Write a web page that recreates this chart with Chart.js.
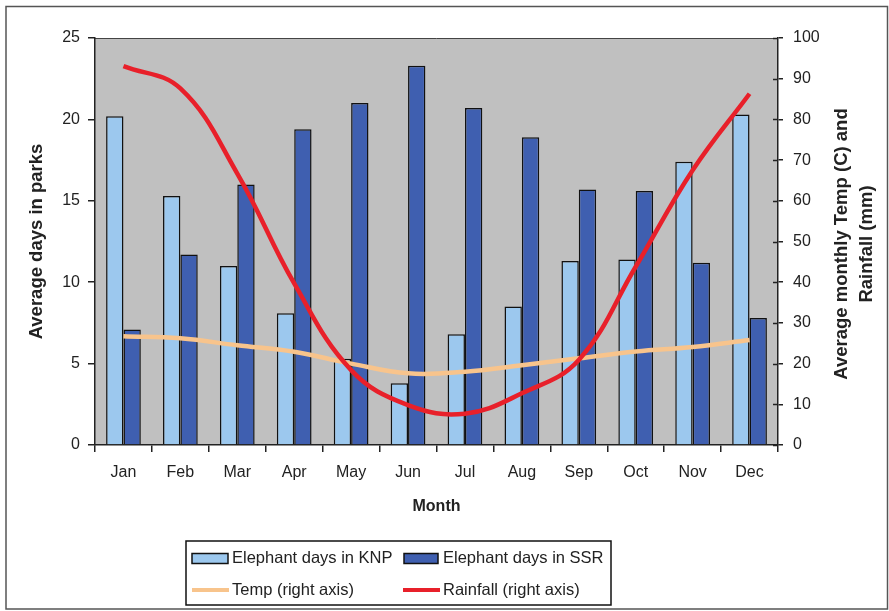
<!DOCTYPE html>
<html>
<head>
<meta charset="utf-8">
<script src="https://cdn.jsdelivr.net/npm/chart.js@4.4.1/dist/chart.umd.min.js"></script>
<style>
  html, body { margin: 0; padding: 0; background: #fff; }
  #wrap { width: 889px; height: 611px; position: relative; }
</style>
</head>
<body>
<div id="wrap"><canvas id="myChart" width="889" height="611"></canvas></div>
<script>
// data
const months = ['Jan', 'Feb', 'Mar', 'Apr', 'May', 'Jun', 'Jul', 'Aug', 'Sep', 'Oct', 'Nov', 'Dec']
const knpDays = [20.2, 15.3, 11.0, 8.1, 5.3, 3.8, 6.8, 8.5, 11.3, 11.4, 17.4, 20.3]
const ssrDays = [7.1, 11.7, 16.0, 19.4, 21.0, 23.3, 20.7, 18.9, 15.7, 15.6, 11.2, 7.8]
const tempC = [26.7, 26.2, 24.5, 22.9, 20.0, 17.6, 18.0, 19.6, 21.3, 23.0, 24.1, 25.8]
const rainMm = [93.1, 87.6, 66.7, 39.7, 18.4, 9.8, 7.7, 12.7, 20.9, 43.8, 67.5, 86.3]

const FONT = '"Liberation Sans", Arial, sans-serif'
const INK = '#222'

// gray plot area, outer frame
const backdrop = {
    id: 'backdrop',
    beforeDraw(chart) {
        const c = chart.ctx, a = chart.chartArea
        c.save()
        c.fillStyle = '#fff'
        c.fillRect(0, 0, chart.width, chart.height)
        c.fillStyle = '#c0c0c0'
        c.fillRect(a.left, a.top, a.right - a.left, a.bottom - a.top)
        c.strokeStyle = '#444'
        c.lineWidth = 1
        c.beginPath()
        c.moveTo(a.left, a.top + 0.5)
        c.lineTo(a.right, a.top + 0.5)
        c.stroke()
        c.strokeStyle = '#555'
        c.lineWidth = 1.5
        c.strokeRect(6, 6.5, 881.5, 602.5)
        c.restore()
    }
}

// right axis title reads bottom to top, inner half of right ticks, boxed legend
const extras = {
    id: 'extras',
    afterDraw(chart) {
        const c = chart.ctx
        const ds = chart.data.datasets
        const r = chart.scales.y1

        c.save()
        c.strokeStyle = INK
        c.lineWidth = 1.5
        r.ticks.forEach(t => {
            const py = Math.round(r.getPixelForValue(t.value)) + 0.5
            c.beginPath()
            c.moveTo(r.left - 5, py)
            c.lineTo(r.left, py)
            c.stroke()
        })
        c.restore()

        c.save()
        c.fillStyle = INK
        c.font = 'bold 18.5px ' + FONT
        c.textAlign = 'center'
        c.textBaseline = 'middle'
        c.translate(854, 244)
        c.rotate(-Math.PI / 2)
        c.fillText('Average monthly Temp (C) and', 0, -12.5)
        c.fillText('Rainfall (mm)', 0, 12.5)
        c.restore()

        c.save()
        c.strokeStyle = '#111'
        c.lineWidth = 1.5
        c.strokeRect(186, 541, 425, 64)
        c.font = '16.5px ' + FONT
        c.fillStyle = INK
        c.textAlign = 'left'
        c.textBaseline = 'middle'
        const row1 = 558.5, row2 = 590
        const items = [
            { d: ds[2], x: 192, y: row1, w: 36, tx: 232 },
            { d: ds[3], x: 404, y: row1, w: 34, tx: 443 },
            { d: ds[1], x: 192, y: row2, w: 37, tx: 232 },
            { d: ds[0], x: 403, y: row2, w: 37, tx: 443 }
        ]
        items.forEach(it => {
            if (it.d.type === 'bar') {
                c.fillStyle = it.d.backgroundColor
                c.fillRect(it.x, it.y - 5, it.w, 10)
                c.strokeStyle = '#111'
                c.lineWidth = 1.5
                c.strokeRect(it.x, it.y - 5, it.w, 10)
            } else {
                c.strokeStyle = it.d.borderColor
                c.lineWidth = 4
                c.beginPath()
                c.moveTo(it.x, it.y)
                c.lineTo(it.x + it.w, it.y)
                c.stroke()
            }
            c.fillStyle = INK
            c.fillText(it.d.label, it.tx, it.y)
        })
        c.restore()
    }
}

const ctx = document.getElementById('myChart').getContext('2d')
const chart = new Chart(ctx, {
    data: {
        labels: months,
        datasets: [{
            type: 'line',
            label: 'Rainfall (right axis)',
            data: rainMm,
            yAxisID: 'y1',
            borderColor: '#e8202a',
            borderWidth: 4.5,
            tension: 0.4,
            pointRadius: 0,
            order: 0
        }, {
            type: 'line',
            label: 'Temp (right axis)',
            data: tempC,
            yAxisID: 'y1',
            borderColor: '#f8c48c',
            borderWidth: 4.5,
            tension: 0.4,
            pointRadius: 0,
            order: 1
        }, {
            type: 'bar',
            label: 'Elephant days in KNP',
            data: knpDays,
            yAxisID: 'y',
            backgroundColor: '#9cc8ee',
            borderColor: '#111',
            borderWidth: 1.5,
            categoryPercentage: 0.61,
            barPercentage: 1.0,
            order: 2
        }, {
            type: 'bar',
            label: 'Elephant days in SSR',
            data: ssrDays,
            yAxisID: 'y',
            backgroundColor: '#3f5fb0',
            borderColor: '#111',
            borderWidth: 1.5,
            categoryPercentage: 0.61,
            barPercentage: 1.0,
            order: 3
        }]
    },
    options: {
        responsive: false,
        animation: false,
        layout: { padding: { left: 20, right: 0, top: 38, bottom: 90 } },
        plugins: {
            legend: { display: false },
            tooltip: { enabled: false }
        },
        scales: {
            x: {
                grid: { offset: true, drawOnChartArea: false, tickLength: 7, color: INK, lineWidth: 1.5 },
                border: { display: true, color: INK, width: 1.5 },
                ticks: { font: { family: FONT, size: 16 }, color: INK, padding: 11, maxRotation: 0 },
                title: { display: true, text: 'Month', color: INK, font: { family: FONT, size: 16, weight: 'bold' }, padding: { top: 4, bottom: 5 } },
                afterFit(s) { s.height = 76 }
            },
            y: {
                position: 'left',
                min: 0,
                max: 25,
                grid: { drawOnChartArea: false, tickLength: 7, color: INK, lineWidth: 1.5 },
                border: { display: true, color: INK, width: 1.5 },
                ticks: { stepSize: 5, font: { family: FONT, size: 16 }, color: INK, padding: 8 },
                title: { display: true, text: 'Average days in parks', color: INK, font: { family: FONT, size: 18.5, weight: 'bold' }, padding: { top: 6, bottom: 0 } },
                afterFit(s) { s.width = 75 }
            },
            y1: {
                position: 'right',
                min: 0,
                max: 100,
                grid: { drawOnChartArea: false, tickLength: 5, color: INK, lineWidth: 1.5 },
                border: { display: true, color: INK, width: 1.5 },
                ticks: { stepSize: 10, font: { family: FONT, size: 16 }, color: INK, padding: 10 },
                afterFit(s) { s.width = 111 }
            }
        }
    },
    plugins: [backdrop, extras]
});
</script>
</body>
</html>
